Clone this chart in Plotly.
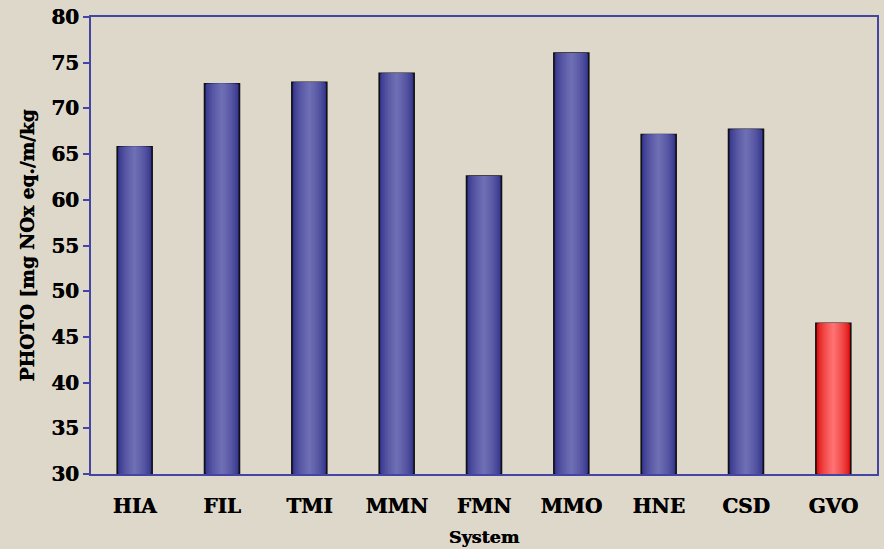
import plotly.graph_objects as go

# Photochemical ozone creation potential per system
systems = ["HIA", "FIL", "TMI", "MMN", "FMN", "MMO", "HNE", "CSD", "GVO"]
photo = [65.8, 72.7, 72.85, 73.85, 62.6, 76.05, 67.15, 67.7, 46.5]
highlight = [False, False, False, False, False, False, False, False, True]

y_ticks = [30, 35, 40, 45, 50, 55, 60, 65, 70, 75, 80]

BG = "#DED8CA"
AXIS_BLUE = "#4444A4"
FONT = "DejaVu Serif"
HEAVY = "0.5px 0px 0px black"  # slight horizontal smear for a heavier bold

# colour ramps (edge -> centre) for the cylinder-like shading
blue_edge, blue_mid = (44, 44, 134), (110, 110, 180)
red_edge, red_mid = (215, 0, 0), (255, 112, 112)


def mix(a, b, t):
    return "rgb(%d,%d,%d)" % tuple(round(a[i] + (b[i] - a[i]) * t) for i in range(3))


fig = go.Figure()

bar_width = 0.4
layers = 12
for k in range(layers):
    frac = 1 - k / layers
    t = min(1.0, (k / (layers - 1)) ** 0.6)
    colors = [mix(red_edge, red_mid, t) if h else mix(blue_edge, blue_mid, t)
              for h in highlight]
    fig.add_trace(go.Bar(
        x=systems,
        y=[v - 30 for v in photo],
        base=30,
        width=bar_width * frac,
        marker=dict(
            color=colors,
            line=dict(color="#111111" if k == 0 else "rgba(0,0,0,0)",
                      width=1.6 if k == 0 else 0),
        ),
        hoverinfo="skip" if k else None,
        showlegend=False,
    ))

fig.update_layout(
    width=884,
    height=549,
    barmode="overlay",
    paper_bgcolor=BG,
    plot_bgcolor=BG,
    margin=dict(l=91, r=5, t=16, b=75),
    font=dict(family=FONT, color="black"),
)

fig.update_xaxes(
    showline=True, mirror=True, linecolor=AXIS_BLUE, linewidth=2,
    showgrid=False, ticks="", ticklabelstandoff=13,
    tickfont=dict(family=FONT, size=20, weight="bold", shadow=HEAVY),
    title=dict(text="System",
               font=dict(family=FONT, size=17.5, weight="bold", shadow=HEAVY),
               standoff=14),
)

fig.update_yaxes(
    range=[30, 80], tickvals=y_ticks,
    showline=True, mirror=True, linecolor=AXIS_BLUE, linewidth=2,
    showgrid=False, zeroline=False,
    ticks="outside", ticklen=6, tickwidth=2, tickcolor=AXIS_BLUE,
    tickfont=dict(family=FONT, size=20, weight="bold", shadow=HEAVY),
    title=dict(text="PHOTO [mg NOx eq./m/kg",
               font=dict(family=FONT, size=18.5, weight="bold", shadow=HEAVY),
               standoff=12),
)

fig.write_html("out.html")
